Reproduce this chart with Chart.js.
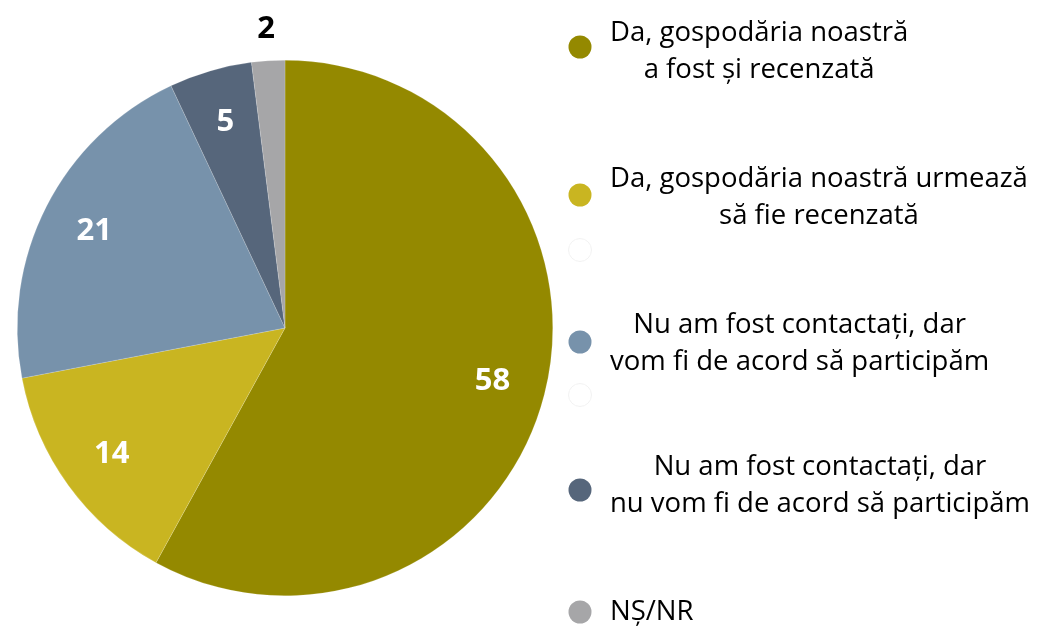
<!DOCTYPE html>
<html>
<head>
<meta charset="utf-8">
<script src="https://cdn.jsdelivr.net/npm/chart.js@4"></script>
<style>
  html, body { margin: 0; padding: 0; background: #fff; }
  #wrap { width: 1038px; height: 629px; position: relative; }
</style>
</head>
<body>
<div id="wrap"><canvas id="pieChart" width="1038" height="629"></canvas></div>
<script>
// data
const categories = [
  ["Da, gospodăria noastră", "a fost și recenzată"],
  ["Da, gospodăria noastră urmează", "să fie recenzată"],
  ["Nu am fost contactați, dar", "vom fi de acord să participăm"],
  ["Nu am fost contactați, dar", "nu vom fi de acord să participăm"],
  ["NȘ/NR"]
];
const values = [58, 14, 21, 5, 2];
const colors = ["#948900", "#C9B521", "#7792AB", "#56667B", "#A6A6A8"];

// legend layout (marker y, first text line y)
const legendMarkerY = [47, 195, 342, 490, 612];
const legendTextY = [33, 179, 325, 467, 612];
const blankMarkerY = [250, 395];

const FONT = "'Open Sans', sans-serif";

const labelPlugin = {
  id: "sliceLabels",
  afterDatasetsDraw(chart) {
    const ctx = chart.ctx;
    const meta = chart.getDatasetMeta(0);
    ctx.save();
    ctx.textAlign = "center";
    ctx.textBaseline = "middle";
    ctx.font = "bold 31px " + FONT;
    meta.data.forEach(function (arc, i) {
      const mid = (arc.startAngle + arc.endAngle) / 2;
      const small = values[i] < 3;
      const dist = small ? arc.outerRadius * 1.12 : arc.outerRadius * 0.8;
      const x = arc.x + Math.cos(mid) * dist;
      const y = arc.y + Math.sin(mid) * dist;
      ctx.fillStyle = small ? "#000" : "#fff";
      ctx.fillText(String(values[i]), x, y);
    });
    ctx.restore();
  }
};

const legendPlugin = {
  id: "customLegend",
  afterDraw(chart) {
    const ctx = chart.ctx;
    ctx.save();
    const mx = 580;
    blankMarkerY.forEach(function (y) {
      ctx.beginPath();
      ctx.arc(mx, y, 11.5, 0, Math.PI * 2);
      ctx.fillStyle = "#fff";
      ctx.fill();
      ctx.strokeStyle = "#f2f2f2";
      ctx.lineWidth = 1;
      ctx.stroke();
    });
    ctx.font = "27.5px " + FONT;
    ctx.textBaseline = "middle";
    ctx.fillStyle = "#000";
    categories.forEach(function (lines, i) {
      ctx.beginPath();
      ctx.arc(mx, legendMarkerY[i], 11.5, 0, Math.PI * 2);
      ctx.fillStyle = colors[i];
      ctx.fill();
      ctx.fillStyle = "#000";
      const left = 610;
      const maxW = Math.max.apply(null, lines.map(function (l) { return ctx.measureText(l).width; }));
      ctx.textAlign = "center";
      lines.forEach(function (line, j) {
        ctx.fillText(line, left + maxW / 2, legendTextY[i] + j * 37);
      });
    });
    ctx.restore();
  }
};

const ctx = document.getElementById("pieChart").getContext("2d");
new Chart(ctx, {
  type: "pie",
  data: {
    labels: categories.map(function (c) { return c.join(" "); }),
    datasets: [{
      data: values,
      backgroundColor: colors,
      borderColor: "rgba(255,255,255,0.35)",
      borderWidth: 0.5
    }]
  },
  options: {
    responsive: false,
    animation: false,
    layout: { padding: { left: 17, top: 60, right: 485, bottom: 33 } },
    plugins: {
      legend: { display: false },
      tooltip: { enabled: false }
    }
  },
  plugins: [labelPlugin, legendPlugin]
});
</script>
</body>
</html>
